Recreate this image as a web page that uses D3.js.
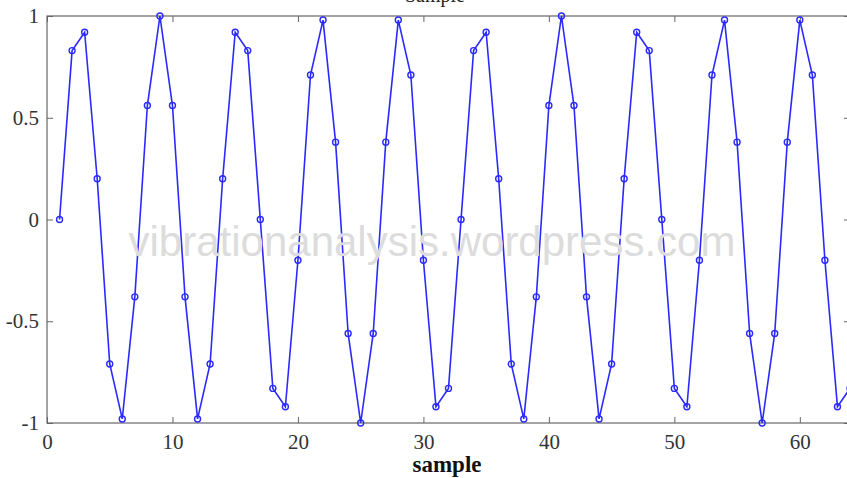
<!DOCTYPE html>
<html>
<head>
<meta charset="utf-8">
<script src="https://cdn.jsdelivr.net/npm/d3@7"></script>
<style>
  body { margin: 0; background: #fff; }
  svg { display: block; }
</style>
</head>
<body>
<svg id="chart" width="847" height="478"></svg>
<script>
// sample values (n = 1..64)
const sampleIdx = d3.range(1, 65);
const sampleVals = [
  0, 0.83, 0.92, 0.2, -0.71, -0.98, -0.38, 0.56, 1, 0.56, -0.38, -0.98, -0.71, 0.2, 0.92, 0.83,
  0, -0.83, -0.92, -0.2, 0.71, 0.98, 0.38, -0.56, -1, -0.56, 0.38, 0.98, 0.71, -0.2, -0.92, -0.83,
  0, 0.83, 0.92, 0.2, -0.71, -0.98, -0.38, 0.56, 1, 0.56, -0.38, -0.98, -0.71, 0.2, 0.92, 0.83,
  0, -0.83, -0.92, -0.2, 0.71, 0.98, 0.38, -0.56, -1, -0.56, 0.38, 0.98, 0.71, -0.2, -0.92, -0.83
];
const xTicks = [0, 10, 20, 30, 40, 50, 60];
const yTicks = [-1, -0.5, 0, 0.5, 1];

const svg = d3.select("#chart");
const margin = {top: 16, left: 47};
const w = 803, h = 407;
const g = svg.append("g").attr("transform", `translate(${margin.left},${margin.top})`);

const x = d3.scaleLinear().domain([0, 64]).range([0, w]);
const y = d3.scaleLinear().domain([-1, 1]).range([h, 0]);

// watermark
svg.append("text")
  .attr("x", 432).attr("y", 256)
  .attr("text-anchor", "middle")
  .style("font-family", "'Liberation Sans', Arial, sans-serif")
  .style("font-size", "42px")
  .style("fill", "#dcdcdc")
  .text("vibrationanalysis.wordpress.com");

// title, mostly cut off by the top edge
svg.append("text")
  .attr("x", 435).attr("y", 2)
  .attr("text-anchor", "middle")
  .style("font-family", "'Liberation Serif', 'Times New Roman', serif")
  .style("font-size", "20px")
  .style("fill", "#222")
  .text("Sample");

const tickFont = "'Liberation Serif', 'Times New Roman', serif";
const axisCol = "#666";

// box
g.append("rect").attr("width", w).attr("height", h)
  .attr("fill", "none").attr("stroke", axisCol).attr("stroke-width", 1.2);

// axes with inward ticks
const axB = g.append("g").attr("transform", `translate(0,${h})`)
  .call(d3.axisBottom(x).tickValues(xTicks).tickSize(-6).tickPadding(11).tickFormat(d3.format("d")));
const axT = g.append("g")
  .call(d3.axisTop(x).tickValues(xTicks).tickSize(-6).tickFormat(""));
const axL = g.append("g")
  .call(d3.axisLeft(y).tickValues(yTicks).tickSize(-6).tickPadding(8).tickFormat(d => d3.format("")(d).replace("−", "-")));
const axR = g.append("g").attr("transform", `translate(${w},0)`)
  .call(d3.axisRight(y).tickValues(yTicks).tickSize(-6).tickFormat(""));

[axB, axT, axL, axR].forEach(a => {
  a.select(".domain").remove();
  a.selectAll(".tick line").attr("stroke", axisCol);
  a.selectAll(".tick text")
    .style("font-family", tickFont)
    .style("font-size", "21px")
    .attr("fill", "#333");
});

// line + markers
const pts = sampleIdx.map((n, i) => ({n: n, v: sampleVals[i]}));
g.append("path")
  .datum(pts)
  .attr("fill", "none")
  .attr("stroke", "#2a2aff")
  .attr("stroke-width", 1.6)
  .attr("d", d3.line().x(d => x(d.n)).y(d => y(d.v)));

g.selectAll("circle.pt")
  .data(pts)
  .join("circle")
  .attr("class", "pt")
  .attr("cx", d => x(d.n))
  .attr("cy", d => y(d.v))
  .attr("r", 3)
  .attr("fill", "none")
  .attr("stroke", "#2a2aff")
  .attr("stroke-width", 1.4);

// x label
svg.append("text")
  .attr("x", 447).attr("y", 472)
  .attr("text-anchor", "middle")
  .style("font-family", tickFont)
  .style("font-size", "23px")
  .style("font-weight", "bold")
  .style("fill", "#111")
  .text("sample");
</script>
</body>
</html>
